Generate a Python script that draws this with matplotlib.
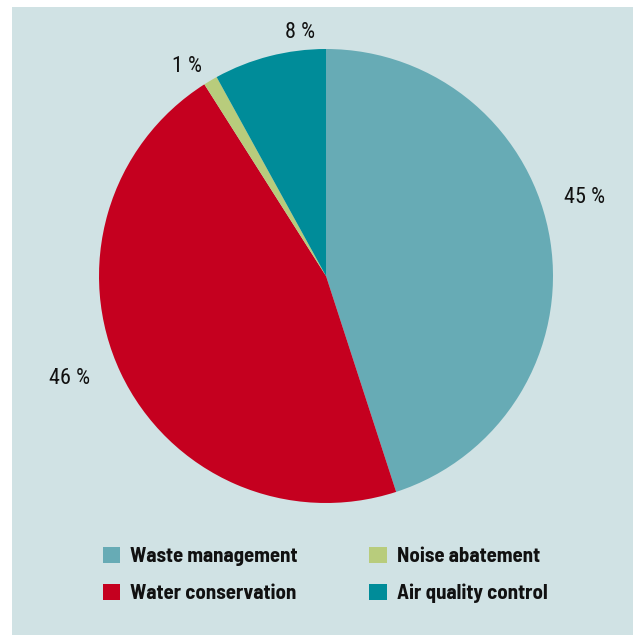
import matplotlib
matplotlib.use("Agg")
import matplotlib.pyplot as plt
from matplotlib.patches import Patch, Rectangle
import numpy as np

categories = ["Waste management", "Water conservation", "Noise abatement", "Air quality control"]
shares = [45, 46, 1, 8]
colors = ["#67abb5", "#c5001f", "#b8cc7c", "#008c99"]
# label placement (angle in degrees, distance in radii) for each slice
label_angles = [17.0, 201.9, 123.5, 96.1]
label_dists = [1.19, 1.216, 1.109, 1.077]

W, H, DPI = 633, 635, 100
fig = plt.figure(figsize=(W / DPI, H / DPI), dpi=DPI, facecolor="white")

# tinted panel behind everything
fig.patches.append(Rectangle((12 / W, 0), 1 - 12 / W, 1 - 7 / H,
                             transform=fig.transFigure, facecolor="#d0e2e4",
                             edgecolor="none", zorder=-10))

R = 227.0
cx, cy = 326.0, H - 276.0
span = 1.3
ax = fig.add_axes([(cx - R * span) / W, (cy - R * span) / H,
                   2 * R * span / W, 2 * R * span / H])
ax.patch.set_alpha(0)

ax.pie(shares, colors=colors, startangle=90, counterclock=False, radius=1.0,
       wedgeprops=dict(linewidth=0))
# pie() resets the limits, so fix them afterwards
ax.set_xlim(-span, span)
ax.set_ylim(-span, span)
ax.set_aspect("equal")
ax.axis("off")

for val, ang, d in zip(shares, label_angles, label_dists):
    a = np.deg2rad(ang)
    ax.text(d * np.cos(a), d * np.sin(a), f"{val} %", ha="center", va="center",
            fontsize=16, family=["Roboto Condensed", "DejaVu Sans"],
            color="#111111")

handles = [Patch(facecolor=c, edgecolor="none") for c in colors]
leg = fig.legend(handles, categories, ncol=2, loc="upper left",
                 bbox_to_anchor=(103 / W, 1 - 547 / H), frameon=False,
                 prop=dict(family=["Barlow Semi Condensed", "DejaVu Sans"],
                           weight="bold", size=15),
                 handlelength=0.82, handleheight=0.82, handletextpad=0.48,
                 columnspacing=3.45, labelspacing=0.83, borderpad=0,
                 borderaxespad=0)
for t in leg.get_texts():
    t.set_color("#111111")

fig.savefig("out.png", dpi=DPI, facecolor="white")
